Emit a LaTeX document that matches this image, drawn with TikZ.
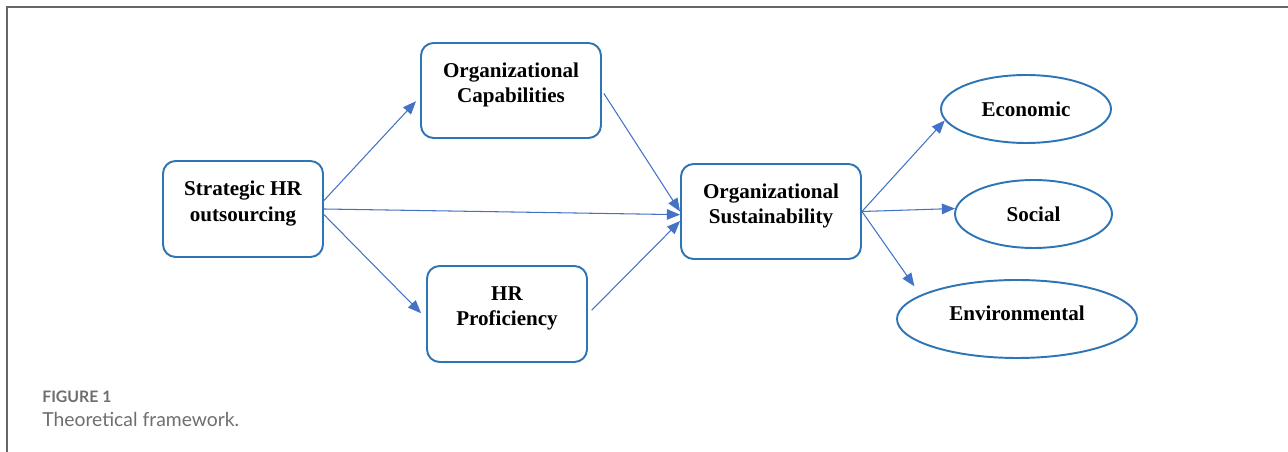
\documentclass[tikz,border=0pt]{standalone}
\usepackage{fontspec}
\setmainfont{Liberation Serif}
\newfontfamily\capfont{Lato}
\usetikzlibrary{arrows.meta,shapes.geometric}
\definecolor{boxblue}{HTML}{2E75B6}
\definecolor{arrblue}{HTML}{4472C4}
\definecolor{capgray}{HTML}{6E6E6E}
\begin{document}
\begin{tikzpicture}[x=0.02cm,y=-0.02cm,
  box/.style={draw=boxblue, line width=1.1pt, rounded corners=0.25cm, align=center, font=\fontsize{12}{14.4}\selectfont\bfseries, text depth=9pt},
  oval/.style={draw=boxblue, line width=1.1pt, ellipse, inner sep=0pt, font=\fontsize{12}{14.4}\selectfont\bfseries},
  arr/.style={draw=arrblue, line width=0.6pt, -{Triangle[length=7.5pt,width=6pt]}}]
\useasboundingbox (0,0) rectangle (1288,452);
\draw[gray!80!black, line width=1.1pt] (7,452) -- (7,7) -- (1288,7);
\node[box, minimum width=3.2cm, minimum height=1.92cm] (shr) at (243,209){Strategic HR\\outsourcing};
\node[box, minimum width=3.6cm, minimum height=1.9cm] (oc) at (511,90.5){Organizational\\Capabilities};
\node[box, minimum width=3.2cm, minimum height=1.92cm] (hrp) at (507,314){HR\\Proficiency};
\node[box, minimum width=3.6cm, minimum height=1.9cm] (os) at (771,211.5){Organizational\\Sustainability};
\node[oval, minimum width=3.4cm, minimum height=1.36cm] (eco) at (1026,109){Economic};
\node[oval, minimum width=3.14cm, minimum height=1.36cm] (soc) at (1033.5,214){Social};
\node[oval, minimum width=4.8cm, minimum height=1.56cm, text depth=7pt] (env) at (1017,319){Environmental};
\draw[arr, shorten >=3.4pt] (shr.6) -- (oc.184);
\draw[arr] (shr.east) -- (os.182);
\draw[arr, shorten >=4pt] (shr.-4) -- (hrp.183);
\draw[arr, shorten <=2pt] (oc.east) -- (os.west);
\draw[arr, shorten <=3pt] (hrp.east) -- (os.186);
\draw[arr] (os.east) -- (eco.188);
\draw[arr] (os.east) -- (soc.176);
\draw[arr, shorten >=6pt] (os.east) -- (env.166);
\node[anchor=base west, inner sep=0pt, text=capgray, font=\capfont\fontsize{9}{10}\selectfont\bfseries] (fig) at (42,402){FIGURE 1};
\node[anchor=base west, inner sep=0pt, text=capgray, font=\capfont\fontsize{11}{13}\selectfont] (cap) at (42,426){Theoretical framework.};
\end{tikzpicture}
\end{document}
